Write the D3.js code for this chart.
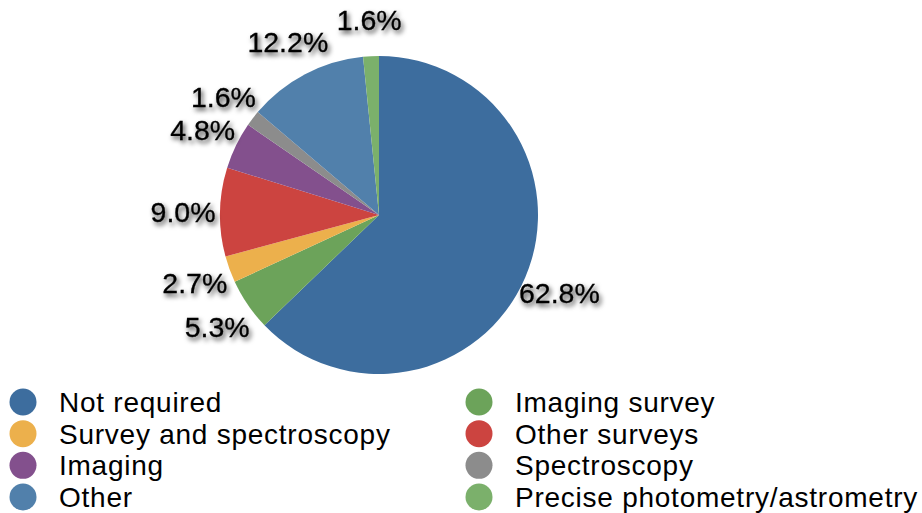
<!DOCTYPE html>
<html>
<head>
<meta charset="utf-8">
<script src="https://cdn.jsdelivr.net/npm/d3@7"></script>
<style>
  body { margin: 0; background: #fff; }
  svg { display: block; font-family: "Liberation Sans", Arial, sans-serif; }
</style>
</head>
<body>
<div id="chart"></div>
<script>
// slice order, clockwise from 12 o'clock
var categories = ["Not required", "Imaging survey", "Survey and spectroscopy", "Other surveys",
                  "Imaging", "Spectroscopy", "Other", "Precise photometry/astrometry"];
var values = [62.8, 5.3, 2.7, 9.0, 4.8, 1.6, 12.2, 1.6];
var colors = ["#3d6d9e", "#6ca35a", "#ecb04c", "#cc4440", "#83508d", "#8c8c8c", "#5180ab", "#7bb06b"];
// legend columns as drawn
var legendLeft = ["Not required", "Survey and spectroscopy", "Imaging", "Other"];
var legendRight = ["Imaging survey", "Other surveys", "Spectroscopy", "Precise photometry/astrometry"];

var width = 922, height = 513;
var cx = 379, cy = 215, radius = 159, labelRadius = 196;

var svg = d3.select("#chart").append("svg")
    .attr("width", width)
    .attr("height", height);

var defs = svg.append("defs");
defs.append("filter")
    .attr("id", "shadow")
    .attr("x", "-20%").attr("y", "-40%")
    .attr("width", "140%").attr("height", "180%")
  .append("feDropShadow")
    .attr("dx", 2)
    .attr("dy", 3)
    .attr("stdDeviation", 2.5)
    .attr("flood-color", "#000")
    .attr("flood-opacity", 0.75);

var color = d3.scaleOrdinal().domain(categories).range(colors);

var pie = d3.pie()
    .sort(null)
    .value(function(d, i) { return values[i]; });

var arcs = pie(categories);

var arc = d3.arc().innerRadius(0).outerRadius(radius);
var labelArc = d3.arc().innerRadius(labelRadius).outerRadius(labelRadius);

var g = svg.append("g").attr("transform", "translate(" + cx + "," + cy + ")");

g.selectAll("path")
    .data(arcs)
    .enter().append("path")
    .attr("d", arc)
    .attr("fill", function(d) { return color(d.data); });

g.selectAll("text.pct")
    .data(arcs)
    .enter().append("text")
    .attr("class", "pct")
    .attr("transform", function(d) {
        var c = labelArc.centroid(d);
        return "translate(" + c[0] + "," + (c[1] + 11) + ")";
    })
    .attr("text-anchor", "middle")
    .attr("font-size", 28.5)
    .attr("fill", "#000")
    .attr("stroke", "#000")
    .attr("stroke-width", 0.3)
    .attr("filter", "url(#shadow)")
    .text(function(d) { return d3.format(".1f")(d.value) + "%"; });

// legend
var rowY = d3.scalePoint().domain(d3.range(4)).range([402, 497]);

function legendColumn(items, circleX, textX) {
    var rows = svg.append("g").selectAll("g")
        .data(items)
        .enter().append("g");

    rows.append("circle")
        .attr("cx", circleX)
        .attr("cy", function(d, i) { return rowY(i); })
        .attr("r", 13.5)
        .attr("fill", function(d) { return color(d); });

    rows.append("text")
        .attr("x", textX)
        .attr("y", function(d, i) { return rowY(i) + 10; })
        .attr("font-size", 28)
        .attr("letter-spacing", 0.75)
        .attr("fill", "#000")
        .text(function(d) { return d; });
}

legendColumn(legendLeft, 23, 59);
legendColumn(legendRight, 479, 515);
</script>
</body>
</html>
